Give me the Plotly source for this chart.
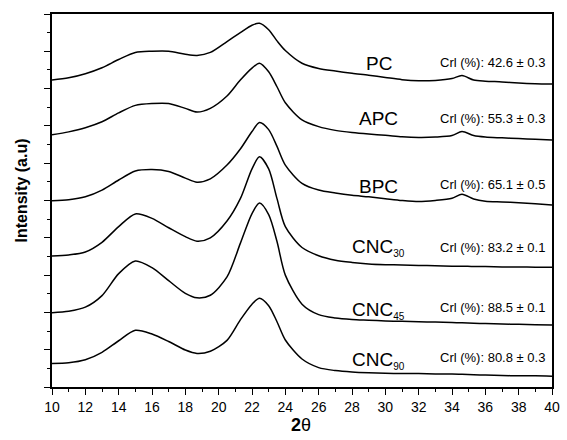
import plotly.graph_objects as go

two_theta = [10, 11, 12, 13, 14, 15, 16, 17, 18, 18.7, 19.5, 20.5, 21.3, 22, 22.45, 23, 23.5, 24,
             25, 26, 27, 28, 29, 30, 31, 32, 33, 34, 34.6, 35.3, 36, 37, 38, 39, 40]

pc = [8.23, 8.29, 8.40, 8.56, 8.78, 8.97, 9.00, 9.00, 8.92, 8.89, 8.97, 9.26, 9.50, 9.70, 9.75, 9.58, 9.28, 9.02,
      8.68, 8.54, 8.47, 8.41, 8.36, 8.30, 8.24, 8.21, 8.22, 8.27, 8.35, 8.23, 8.20, 8.18, 8.15, 8.13, 8.12]
apc = [6.76, 6.84, 6.95, 7.11, 7.35, 7.55, 7.60, 7.60, 7.47, 7.37, 7.47, 7.80, 8.23, 8.55, 8.68, 8.45, 8.05, 7.62,
       7.16, 6.98, 6.88, 6.82, 6.78, 6.75, 6.71, 6.69, 6.70, 6.74, 6.85, 6.74, 6.70, 6.68, 6.66, 6.64, 6.62]
bpc = [4.99, 5.02, 5.10, 5.28, 5.55, 5.79, 5.83, 5.78, 5.60, 5.49, 5.58, 5.95, 6.38, 6.85, 7.09, 6.90, 6.45, 5.95,
       5.46, 5.28, 5.20, 5.14, 5.10, 5.05, 5.00, 4.97, 5.00, 5.06, 5.17, 5.04, 4.98, 4.96, 4.94, 4.91, 4.88]
cnc30 = [3.51, 3.54, 3.62, 3.88, 4.30, 4.64, 4.52, 4.27, 4.03, 3.91, 4.00, 4.45, 5.05, 5.85, 6.17, 5.85, 5.05, 4.30,
         3.74, 3.52, 3.40, 3.34, 3.30, 3.28, 3.27, 3.26, 3.25, 3.24, 3.24, 3.23, 3.23, 3.22, 3.22, 3.21, 3.21]
cnc45 = [1.99, 2.03, 2.14, 2.45, 3.04, 3.38, 3.20, 2.85, 2.51, 2.39, 2.46, 2.95, 3.85, 4.65, 4.93, 4.62, 3.90, 3.00,
         2.22, 1.94, 1.85, 1.81, 1.79, 1.77, 1.76, 1.75, 1.74, 1.73, 1.72, 1.71, 1.70, 1.69, 1.68, 1.67, 1.66]
cnc90 = [0.63, 0.65, 0.73, 0.93, 1.24, 1.52, 1.42, 1.22, 0.99, 0.90, 0.96, 1.25, 1.80, 2.22, 2.38, 2.18, 1.75, 1.26,
         0.75, 0.52, 0.44, 0.40, 0.38, 0.37, 0.36, 0.36, 0.35, 0.35, 0.34, 0.33, 0.32, 0.31, 0.30, 0.30, 0.29]

sample_names = ["PC", "APC", "BPC", "CNC<sub>30</sub>", "CNC<sub>45</sub>", "CNC<sub>90</sub>"]
crl_labels = ["Crl (%): 42.6 ± 0.3", "Crl (%): 55.3 ± 0.3", "Crl (%): 65.1 ± 0.5",
              "Crl (%): 83.2 ± 0.1", "Crl (%): 88.5 ± 0.1", "Crl (%): 80.8 ± 0.3"]
series = [pc, apc, bpc, cnc30, cnc45, cnc90]

# label placement (layout, data coords)
name_x = [29.6, 29.6, 29.6, 29.6, 29.6, 29.6]
name_y = [8.66, 7.21, 5.37, 3.74, 2.05, 0.71]
crl_y = [8.71, 7.21, 5.42, 3.75, 2.12, 0.80]

FONT = "Liberation Sans, Arial, sans-serif"
W, H = 567, 440
ML, MR, MT, MB = 52, 7, 14, 53
plot_w = W - ML - MR
plot_h = H - MT - MB

fig = go.Figure()
for ys in series:
    fig.add_trace(go.Scatter(x=two_theta, y=ys, mode="lines",
                             line=dict(color="black", width=1.5, shape="spline", smoothing=0.8),
                             showlegend=False, hoverinfo="skip"))

anns = []
for nm, xv, yv in zip(sample_names, name_x, name_y):
    nm = nm.replace("<sub>", "<sub><span style='font-size:10px'>").replace("</sub>", "</span></sub>")
    anns.append(dict(x=xv, y=yv, xref="x", yref="y", text=nm, showarrow=False,
                     xanchor="center", yanchor="middle", font=dict(size=19, color="black", family=FONT)))
for cl, yv in zip(crl_labels, crl_y):
    anns.append(dict(x=36.4, y=yv, xref="x", yref="y", text=cl, showarrow=False,
                     xanchor="center", yanchor="middle", font=dict(size=13, color="black", family=FONT)))
# axis titles placed in paper coords from pixel positions
anns.append(dict(x=(20 - ML) / plot_w, y=(H - MB - 191) / plot_h, xref="paper", yref="paper",
                 text="<b>Intensity (a.u)</b>", showarrow=False, textangle=-90,
                 xanchor="center", yanchor="middle", font=dict(size=16, color="black", family=FONT)))
anns.append(dict(x=(305 - ML) / plot_w, y=(H - MB - 425) / plot_h, xref="paper", yref="paper",
                 text="<b>2</b>θ", showarrow=False,
                 xanchor="center", yanchor="middle", font=dict(size=18, color="black", family=FONT)))

fig.update_layout(
    width=W, height=H,
    margin=dict(l=ML, r=MR, t=MT, b=MB),
    paper_bgcolor="white", plot_bgcolor="white",
    font=dict(family=FONT, color="black"),
    annotations=anns,
    xaxis=dict(range=[10, 40], tick0=10, dtick=2, ticks="outside", ticklen=6, tickwidth=1.2,
               tickcolor="black", showline=True, linecolor="black", linewidth=1.5, mirror=True,
               showgrid=False, zeroline=False, tickfont=dict(size=14, family=FONT),
               minor=dict(dtick=1, ticks="outside", ticklen=3, tickwidth=1.2, tickcolor="black")),
    yaxis=dict(range=[0, 10], tick0=0, dtick=1, ticks="outside", ticklen=6, tickwidth=1.2,
               tickcolor="black", showline=True, linecolor="black", linewidth=1.5, mirror=True,
               showgrid=False, zeroline=False, showticklabels=False,
               minor=dict(dtick=0.5, ticks="outside", ticklen=3, tickwidth=1.2, tickcolor="black")),
)

fig.write_html("out.html", config={"displayModeBar": False},
               post_script="document.body.style.margin='0';document.body.style.overflow='hidden';")
